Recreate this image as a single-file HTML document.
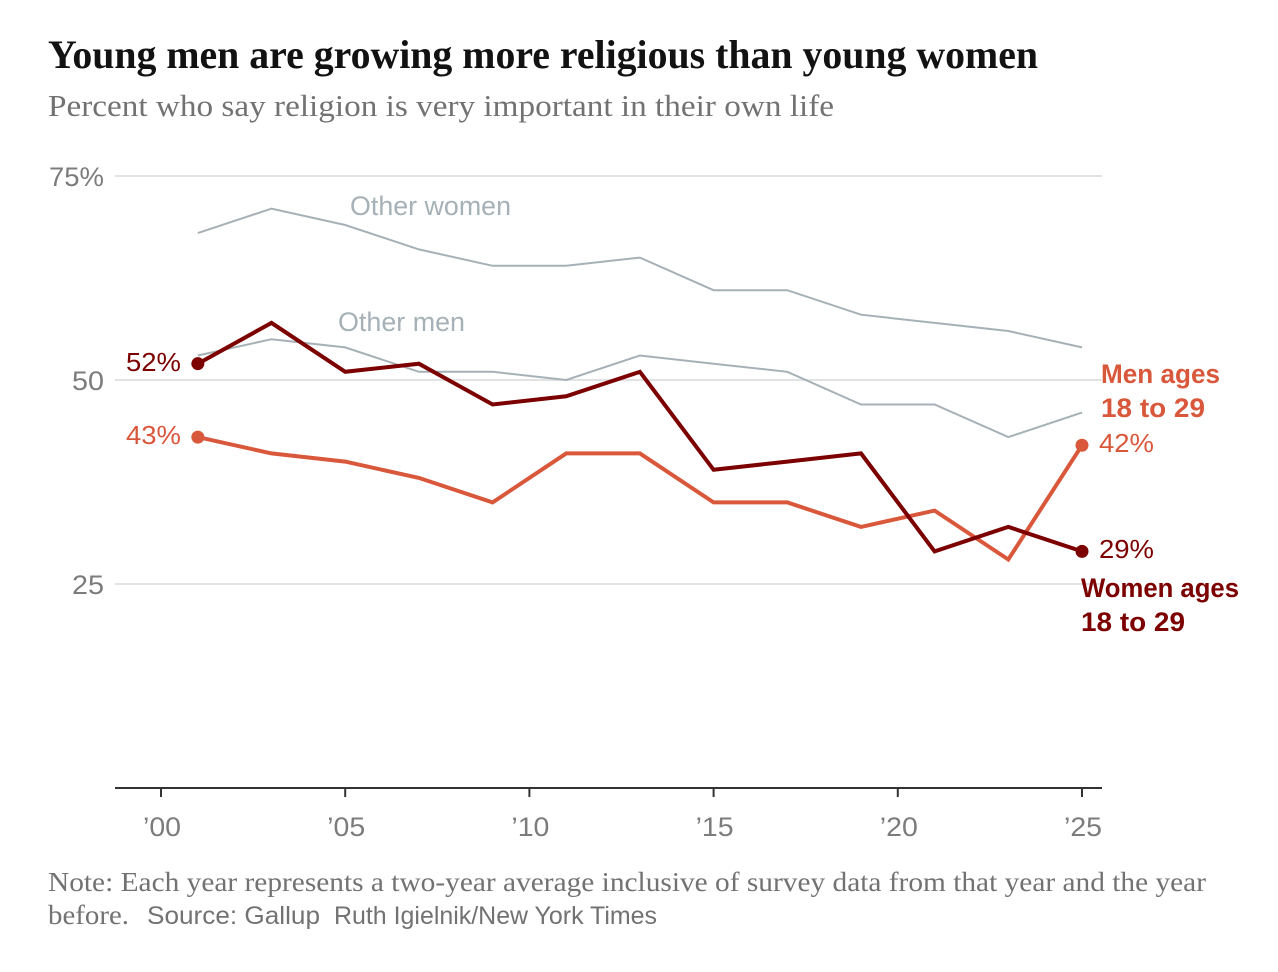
<!DOCTYPE html>
<html lang="en">
<head>
<meta charset="utf-8">
<title>Young men are growing more religious than young women</title>
<style>
html,body{margin:0;padding:0;background:#fff;width:1278px;height:972px;overflow:hidden}
svg{display:block}
.sans{font-family:"Liberation Sans",sans-serif}
.serif{font-family:"Liberation Serif",serif}
</style>
</head>
<body>
<svg id="chart" width="1278" height="972" viewBox="0 0 1278 972" xmlns="http://www.w3.org/2000/svg">
  <text class="serif" x="48" y="68" font-size="40" font-weight="700" fill="#121212" textLength="990" lengthAdjust="spacingAndGlyphs">Young men are growing more religious than young women</text>
  <text class="serif" x="48" y="116" font-size="31" fill="#727272" textLength="786" lengthAdjust="spacingAndGlyphs">Percent who say religion is very important in their own life</text>
  <g id="grid"></g>
  <g id="xaxis"></g>
  <g id="series"></g>

  <text class="sans" x="350" y="215" font-size="27" fill="#a6b1b7" textLength="161" lengthAdjust="spacingAndGlyphs">Other women</text>
  <text class="sans" x="338" y="331" font-size="27" fill="#a6b1b7" textLength="127" lengthAdjust="spacingAndGlyphs">Other men</text>

  <text class="sans" x="126" y="444" font-size="26" fill="#d9583b" textLength="55" lengthAdjust="spacingAndGlyphs">43%</text>
  <text class="sans" x="126" y="371" font-size="26" fill="#7c0000" textLength="55" lengthAdjust="spacingAndGlyphs">52%</text>
  <text class="sans" x="1099" y="452" font-size="26" fill="#d9583b" textLength="55" lengthAdjust="spacingAndGlyphs">42%</text>
  <text class="sans" x="1099" y="558" font-size="26" fill="#7c0000" textLength="55" lengthAdjust="spacingAndGlyphs">29%</text>

  <text class="sans" x="1101" y="383" font-size="26.5" font-weight="700" fill="#d9583b" textLength="119" lengthAdjust="spacingAndGlyphs">Men ages</text>
  <text class="sans" x="1101" y="417" font-size="26.5" font-weight="700" fill="#d9583b" textLength="104" lengthAdjust="spacingAndGlyphs">18 to 29</text>
  <text class="sans" x="1081" y="597" font-size="26.5" font-weight="700" fill="#7c0000" textLength="158" lengthAdjust="spacingAndGlyphs">Women ages</text>
  <text class="sans" x="1081" y="631" font-size="26.5" font-weight="700" fill="#7c0000" textLength="104" lengthAdjust="spacingAndGlyphs">18 to 29</text>

  <text class="serif" x="48" y="891" font-size="27" fill="#727272" textLength="1158" lengthAdjust="spacingAndGlyphs">Note: Each year represents a two-year average inclusive of survey data from that year and the year</text>
  <text class="serif" x="48" y="924" font-size="27" fill="#727272" textLength="81" lengthAdjust="spacingAndGlyphs">before.</text>
  <text class="sans" x="147" y="924" font-size="25" fill="#727272" textLength="173" lengthAdjust="spacingAndGlyphs">Source: Gallup</text>
  <text class="sans" x="334" y="924" font-size="25" fill="#727272" textLength="323" lengthAdjust="spacingAndGlyphs">Ruth Igielnik/New York Times</text>
</svg>
<script>
var years = [2001, 2003, 2005, 2007, 2009, 2011, 2013, 2015, 2017, 2019, 2021, 2023, 2025];
var otherWomen = [68, 71, 69, 66, 64, 64, 65, 61, 61, 58, 57, 56, 54];
var otherMen = [53, 55, 54, 51, 51, 50, 53, 52, 51, 47, 47, 43, 46];
var womenYoung = [52, 57, 51, 52, 47, 48, 51, 39, 40, 41, 29, 32, 29];
var menYoung = [43, 41, 40, 38, 35, 41, 41, 35, 35, 32, 34, 28, 42];
var yTicks = [25, 50, 75];
var yTickLabels = ['25', '50', '75%'];
var xTicks = [2000, 2005, 2010, 2015, 2020, 2025];
var xTickLabels = ['\u201900', '\u201905', '\u201910', '\u201915', '\u201920', '\u201925'];

var NS = 'http://www.w3.org/2000/svg';
function xScale(year) { return 161 + (year - 2000) * (1082 - 161) / 25; }
function yScale(v) { return 788 - v * (788 - 176) / 75; }
function make(tag, parent, attrs) {
  var el = document.createElementNS(NS, tag);
  for (var k in attrs) { el.setAttribute(k, attrs[k]); }
  parent.appendChild(el);
  return el;
}

var grid = document.getElementById('grid');
yTicks.forEach(function (t, i) {
  var line = make('line', grid, { x1: 115, x2: 1102, y1: yScale(t), y2: yScale(t), stroke: '#e2e2e2', 'stroke-width': 2 });
  
  
  var labelText = yTickLabels[i];
  var label = make('text', grid, { x: 104, y: yScale(t) + 10, 'text-anchor': 'end', 'font-size': 27, fill: '#7c7c7c', 'class': 'sans', textLength: labelText.length > 2 ? 55 : 32, lengthAdjust: 'spacingAndGlyphs' });
  
  
  label.textContent = labelText;
});

var xaxis = document.getElementById('xaxis');
var axisLine = make('line', xaxis, { x1: 115, x2: 1102, y1: yScale(0), y2: yScale(0), stroke: '#333', 'stroke-width': 2 });


xTicks.forEach(function (t, i) {
  var tick = make('line', xaxis, { x1: xScale(t), x2: xScale(t), y1: yScale(0), y2: yScale(0) + 9, stroke: '#333', 'stroke-width': 2 });
  
  
  var label = make('text', xaxis, { x: xScale(t) + 1, y: 836, 'text-anchor': 'middle', 'font-size': 27, fill: '#7c7c7c', 'class': 'sans', textLength: 38, lengthAdjust: 'spacingAndGlyphs' });
  
  
  label.textContent = xTickLabels[i];
});

var seriesGroup = document.getElementById('series');
function drawLine(values, color, width, name) {
  var pts = values.map(function (v, i) { return xScale(years[i]).toFixed(1) + ',' + yScale(v).toFixed(1); }).join(' ');
  var line = make('polyline', seriesGroup, { points: pts, fill: 'none', stroke: color, 'stroke-width': width, 'stroke-linejoin': 'miter' });
  
  
}
function drawDot(year, v, color, name) {
  var dot = make('circle', seriesGroup, { cx: xScale(year), cy: yScale(v), r: 6.5, fill: color });
  
  
}
drawLine(otherWomen, '#a6b1b7', 2, 'other-women-line');
drawLine(otherMen, '#a6b1b7', 2, 'other-men-line');
drawLine(menYoung, '#d9583b', 4, 'men-18-29-line');
drawLine(womenYoung, '#7c0000', 4, 'women-18-29-line');
var last = years.length - 1;
drawDot(years[0], menYoung[0], '#d9583b', 'men-start-dot');
drawDot(years[last], menYoung[last], '#d9583b', 'men-end-dot');
drawDot(years[0], womenYoung[0], '#7c0000', 'women-start-dot');
drawDot(years[last], womenYoung[last], '#7c0000', 'women-end-dot');
</script>
</body>
</html>
